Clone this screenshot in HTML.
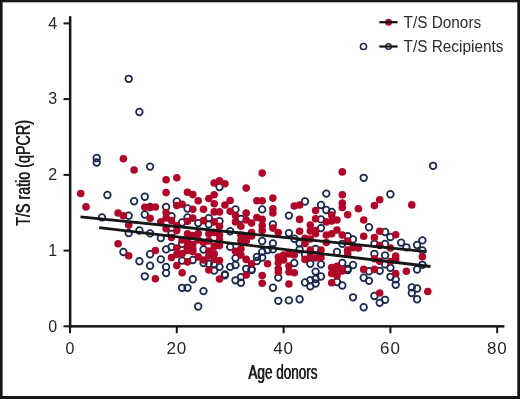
<!DOCTYPE html>
<html><head><meta charset="utf-8"><title>T/S ratio vs Age donors</title>
<style>
html,body{margin:0;padding:0;background:#fff;}
body{width:520px;height:399px;overflow:hidden;font-family:"Liberation Sans",sans-serif;}
svg{display:block;will-change:transform;font-family:"Liberation Sans",sans-serif;}
</style></head><body>
<svg width="520" height="399" viewBox="0 0 520 399">
<rect x="0" y="0" width="520" height="399" fill="#ffffff"/>

<rect x="0" y="0" width="520" height="2.3" fill="#161616"/>
<rect x="0" y="0" width="2.6" height="399" fill="#161616"/>
<rect x="517.3" y="0" width="2.7" height="399" fill="#161616"/>
<rect x="0" y="396" width="520" height="3" fill="#161616"/>
<g fill="#ffffff" fill-opacity="0" stroke="#18294e" stroke-width="1.75">
<circle cx="128.7" cy="78.8" r="3.3"/>
<circle cx="139.4" cy="112.0" r="3.3"/>
<circle cx="96.7" cy="158.0" r="3.3"/>
<circle cx="96.7" cy="162.5" r="3.3"/>
<circle cx="107.4" cy="195.0" r="3.3"/>
<circle cx="102.0" cy="217.4" r="3.3"/>
<circle cx="128.7" cy="215.7" r="3.3"/>
<circle cx="134.1" cy="201.2" r="3.3"/>
<circle cx="144.8" cy="196.7" r="3.3"/>
<circle cx="144.8" cy="214.5" r="3.3"/>
<circle cx="128.7" cy="233.1" r="3.3"/>
<circle cx="139.4" cy="230.5" r="3.3"/>
<circle cx="150.1" cy="233.4" r="3.3"/>
<circle cx="123.4" cy="252.0" r="3.3"/>
<circle cx="139.4" cy="261.2" r="3.3"/>
<circle cx="144.8" cy="276.3" r="3.3"/>
<circle cx="150.1" cy="254.2" r="3.3"/>
<circle cx="150.1" cy="265.7" r="3.3"/>
<circle cx="150.1" cy="166.6" r="3.3"/>
<circle cx="176.8" cy="201.5" r="3.3"/>
<circle cx="166.1" cy="206.9" r="3.3"/>
<circle cx="219.5" cy="187.0" r="3.3"/>
<circle cx="187.5" cy="208.5" r="3.3"/>
<circle cx="150.1" cy="207.0" r="3.3"/>
<circle cx="171.5" cy="216.2" r="3.3"/>
<circle cx="187.5" cy="217.5" r="3.3"/>
<circle cx="182.1" cy="222.5" r="3.3"/>
<circle cx="198.2" cy="223.1" r="3.3"/>
<circle cx="160.8" cy="238.1" r="3.3"/>
<circle cx="171.5" cy="233.8" r="3.3"/>
<circle cx="182.1" cy="243.8" r="3.3"/>
<circle cx="171.5" cy="247.0" r="3.3"/>
<circle cx="166.1" cy="249.4" r="3.3"/>
<circle cx="160.8" cy="259.4" r="3.3"/>
<circle cx="166.1" cy="266.9" r="3.3"/>
<circle cx="166.1" cy="273.1" r="3.3"/>
<circle cx="182.1" cy="260.6" r="3.3"/>
<circle cx="192.8" cy="279.2" r="3.3"/>
<circle cx="182.1" cy="287.8" r="3.3"/>
<circle cx="187.5" cy="287.8" r="3.3"/>
<circle cx="203.5" cy="291.1" r="3.3"/>
<circle cx="192.8" cy="260.0" r="3.3"/>
<circle cx="203.5" cy="263.0" r="3.3"/>
<circle cx="187.5" cy="250.0" r="3.3"/>
<circle cx="198.2" cy="306.5" r="3.3"/>
<circle cx="224.9" cy="275.2" r="3.3"/>
<circle cx="235.5" cy="280.3" r="3.3"/>
<circle cx="240.9" cy="282.7" r="3.3"/>
<circle cx="240.9" cy="277.1" r="3.3"/>
<circle cx="251.6" cy="270.0" r="3.3"/>
<circle cx="214.2" cy="270.5" r="3.3"/>
<circle cx="235.5" cy="209.4" r="3.3"/>
<circle cx="262.2" cy="209.4" r="3.3"/>
<circle cx="208.8" cy="218.1" r="3.3"/>
<circle cx="219.5" cy="221.2" r="3.3"/>
<circle cx="240.9" cy="218.8" r="3.3"/>
<circle cx="208.8" cy="224.4" r="3.3"/>
<circle cx="230.2" cy="231.2" r="3.3"/>
<circle cx="262.2" cy="241.0" r="3.3"/>
<circle cx="230.2" cy="246.9" r="3.3"/>
<circle cx="235.5" cy="258.1" r="3.3"/>
<circle cx="256.9" cy="256.9" r="3.3"/>
<circle cx="262.2" cy="257.5" r="3.3"/>
<circle cx="262.2" cy="251.9" r="3.3"/>
<circle cx="267.6" cy="250.0" r="3.3"/>
<circle cx="256.9" cy="261.0" r="3.3"/>
<circle cx="214.2" cy="264.4" r="3.3"/>
<circle cx="219.5" cy="266.9" r="3.3"/>
<circle cx="208.8" cy="263.8" r="3.3"/>
<circle cx="230.2" cy="266.9" r="3.3"/>
<circle cx="235.5" cy="265.0" r="3.3"/>
<circle cx="246.2" cy="268.8" r="3.3"/>
<circle cx="251.6" cy="269.4" r="3.3"/>
<circle cx="224.9" cy="274.4" r="3.3"/>
<circle cx="326.3" cy="193.6" r="3.3"/>
<circle cx="305.0" cy="201.5" r="3.3"/>
<circle cx="321.0" cy="205.0" r="3.3"/>
<circle cx="326.3" cy="210.0" r="3.3"/>
<circle cx="331.7" cy="212.0" r="3.3"/>
<circle cx="288.9" cy="215.6" r="3.3"/>
<circle cx="321.0" cy="219.4" r="3.3"/>
<circle cx="272.9" cy="224.4" r="3.3"/>
<circle cx="321.0" cy="228.1" r="3.3"/>
<circle cx="288.9" cy="233.1" r="3.3"/>
<circle cx="294.3" cy="238.7" r="3.3"/>
<circle cx="272.9" cy="243.4" r="3.3"/>
<circle cx="299.6" cy="243.4" r="3.3"/>
<circle cx="272.9" cy="249.4" r="3.3"/>
<circle cx="299.6" cy="249.4" r="3.3"/>
<circle cx="315.6" cy="248.8" r="3.3"/>
<circle cx="305.0" cy="255.0" r="3.3"/>
<circle cx="310.3" cy="263.8" r="3.3"/>
<circle cx="321.0" cy="264.4" r="3.3"/>
<circle cx="294.3" cy="263.0" r="3.3"/>
<circle cx="278.3" cy="277.6" r="3.3"/>
<circle cx="315.6" cy="271.6" r="3.3"/>
<circle cx="321.0" cy="276.5" r="3.3"/>
<circle cx="315.6" cy="279.0" r="3.3"/>
<circle cx="310.3" cy="280.1" r="3.3"/>
<circle cx="305.0" cy="282.5" r="3.3"/>
<circle cx="272.9" cy="287.7" r="3.3"/>
<circle cx="278.3" cy="300.8" r="3.3"/>
<circle cx="288.9" cy="300.4" r="3.3"/>
<circle cx="299.6" cy="299.2" r="3.3"/>
<circle cx="310.3" cy="286.3" r="3.3"/>
<circle cx="315.6" cy="283.5" r="3.3"/>
<circle cx="342.3" cy="285.5" r="3.3"/>
<circle cx="353.0" cy="297.3" r="3.3"/>
<circle cx="347.7" cy="270.0" r="3.3"/>
<circle cx="363.7" cy="177.8" r="3.3"/>
<circle cx="390.4" cy="194.2" r="3.3"/>
<circle cx="369.0" cy="227.2" r="3.3"/>
<circle cx="347.7" cy="236.2" r="3.3"/>
<circle cx="353.0" cy="239.4" r="3.3"/>
<circle cx="385.1" cy="232.0" r="3.3"/>
<circle cx="390.4" cy="237.0" r="3.3"/>
<circle cx="374.4" cy="243.8" r="3.3"/>
<circle cx="385.1" cy="244.0" r="3.3"/>
<circle cx="401.1" cy="242.6" r="3.3"/>
<circle cx="342.3" cy="243.8" r="3.3"/>
<circle cx="337.0" cy="251.9" r="3.3"/>
<circle cx="374.4" cy="253.8" r="3.3"/>
<circle cx="385.1" cy="255.4" r="3.3"/>
<circle cx="342.3" cy="263.0" r="3.3"/>
<circle cx="353.0" cy="265.0" r="3.3"/>
<circle cx="347.7" cy="268.8" r="3.3"/>
<circle cx="385.1" cy="264.4" r="3.3"/>
<circle cx="390.4" cy="267.8" r="3.3"/>
<circle cx="379.7" cy="270.8" r="3.3"/>
<circle cx="369.0" cy="271.2" r="3.3"/>
<circle cx="363.7" cy="277.7" r="3.3"/>
<circle cx="369.0" cy="280.8" r="3.3"/>
<circle cx="390.4" cy="276.8" r="3.3"/>
<circle cx="395.7" cy="279.4" r="3.3"/>
<circle cx="337.0" cy="282.0" r="3.3"/>
<circle cx="363.7" cy="307.2" r="3.3"/>
<circle cx="374.4" cy="296.0" r="3.3"/>
<circle cx="385.1" cy="299.8" r="3.3"/>
<circle cx="379.7" cy="302.8" r="3.3"/>
<circle cx="395.7" cy="284.8" r="3.3"/>
<circle cx="433.1" cy="165.8" r="3.3"/>
<circle cx="203.5" cy="249.5" r="3.3"/>
<circle cx="406.4" cy="247.3" r="3.3"/>
<circle cx="422.4" cy="240.4" r="3.3"/>
<circle cx="417.1" cy="245.0" r="3.3"/>
<circle cx="422.4" cy="250.4" r="3.3"/>
<circle cx="422.4" cy="264.8" r="3.3"/>
<circle cx="417.1" cy="269.5" r="3.3"/>
<circle cx="411.8" cy="287.4" r="3.3"/>
<circle cx="417.1" cy="288.5" r="3.3"/>
<circle cx="411.8" cy="293.0" r="3.3"/>
<circle cx="417.1" cy="299.2" r="3.3"/>
</g>
<g fill="#b00628">
<circle cx="123.4" cy="158.8" r="3.8"/>
<circle cx="134.1" cy="170.0" r="3.8"/>
<circle cx="80.7" cy="193.5" r="3.8"/>
<circle cx="86.0" cy="206.9" r="3.8"/>
<circle cx="118.1" cy="213.0" r="3.8"/>
<circle cx="123.4" cy="215.7" r="3.8"/>
<circle cx="128.7" cy="225.1" r="3.8"/>
<circle cx="144.8" cy="207.2" r="3.8"/>
<circle cx="150.1" cy="207.5" r="3.8"/>
<circle cx="150.1" cy="218.3" r="3.8"/>
<circle cx="118.1" cy="243.8" r="3.8"/>
<circle cx="128.7" cy="255.8" r="3.8"/>
<circle cx="166.1" cy="179.7" r="3.8"/>
<circle cx="176.8" cy="177.7" r="3.8"/>
<circle cx="166.1" cy="192.6" r="3.8"/>
<circle cx="187.5" cy="192.3" r="3.8"/>
<circle cx="192.8" cy="194.6" r="3.8"/>
<circle cx="198.2" cy="200.7" r="3.8"/>
<circle cx="208.8" cy="198.5" r="3.8"/>
<circle cx="214.2" cy="194.7" r="3.8"/>
<circle cx="214.2" cy="183.0" r="3.8"/>
<circle cx="219.5" cy="180.7" r="3.8"/>
<circle cx="214.2" cy="203.8" r="3.8"/>
<circle cx="176.8" cy="205.5" r="3.8"/>
<circle cx="182.1" cy="204.3" r="3.8"/>
<circle cx="155.4" cy="207.0" r="3.8"/>
<circle cx="192.8" cy="209.3" r="3.8"/>
<circle cx="203.5" cy="209.3" r="3.8"/>
<circle cx="166.1" cy="212.5" r="3.8"/>
<circle cx="166.1" cy="218.0" r="3.8"/>
<circle cx="160.8" cy="221.9" r="3.8"/>
<circle cx="171.5" cy="220.6" r="3.8"/>
<circle cx="192.8" cy="218.1" r="3.8"/>
<circle cx="187.5" cy="221.2" r="3.8"/>
<circle cx="203.5" cy="220.6" r="3.8"/>
<circle cx="176.8" cy="225.6" r="3.8"/>
<circle cx="166.1" cy="228.8" r="3.8"/>
<circle cx="176.8" cy="230.6" r="3.8"/>
<circle cx="171.5" cy="237.5" r="3.8"/>
<circle cx="187.5" cy="233.8" r="3.8"/>
<circle cx="192.8" cy="235.6" r="3.8"/>
<circle cx="182.1" cy="240.0" r="3.8"/>
<circle cx="187.5" cy="241.2" r="3.8"/>
<circle cx="198.2" cy="240.0" r="3.8"/>
<circle cx="203.5" cy="242.5" r="3.8"/>
<circle cx="176.8" cy="248.1" r="3.8"/>
<circle cx="155.4" cy="250.5" r="3.8"/>
<circle cx="187.5" cy="246.9" r="3.8"/>
<circle cx="171.5" cy="257.5" r="3.8"/>
<circle cx="176.8" cy="254.4" r="3.8"/>
<circle cx="176.8" cy="265.6" r="3.8"/>
<circle cx="182.1" cy="253.8" r="3.8"/>
<circle cx="182.1" cy="272.7" r="3.8"/>
<circle cx="187.5" cy="261.9" r="3.8"/>
<circle cx="155.4" cy="278.8" r="3.8"/>
<circle cx="187.5" cy="250.5" r="3.8"/>
<circle cx="192.8" cy="248.8" r="3.8"/>
<circle cx="198.2" cy="256.9" r="3.8"/>
<circle cx="203.5" cy="260.0" r="3.8"/>
<circle cx="219.5" cy="279.0" r="3.8"/>
<circle cx="246.2" cy="275.0" r="3.8"/>
<circle cx="262.2" cy="275.5" r="3.8"/>
<circle cx="262.2" cy="283.2" r="3.8"/>
<circle cx="208.8" cy="270.0" r="3.8"/>
<circle cx="224.9" cy="183.8" r="3.8"/>
<circle cx="246.2" cy="188.1" r="3.8"/>
<circle cx="262.2" cy="173.1" r="3.8"/>
<circle cx="230.2" cy="200.5" r="3.8"/>
<circle cx="256.9" cy="200.8" r="3.8"/>
<circle cx="262.2" cy="200.8" r="3.8"/>
<circle cx="224.9" cy="205.0" r="3.8"/>
<circle cx="214.2" cy="211.9" r="3.8"/>
<circle cx="219.5" cy="211.9" r="3.8"/>
<circle cx="230.2" cy="211.2" r="3.8"/>
<circle cx="246.2" cy="213.1" r="3.8"/>
<circle cx="235.5" cy="215.6" r="3.8"/>
<circle cx="256.9" cy="217.5" r="3.8"/>
<circle cx="262.2" cy="219.4" r="3.8"/>
<circle cx="235.5" cy="221.9" r="3.8"/>
<circle cx="246.2" cy="220.0" r="3.8"/>
<circle cx="251.6" cy="223.1" r="3.8"/>
<circle cx="214.2" cy="221.9" r="3.8"/>
<circle cx="219.5" cy="226.2" r="3.8"/>
<circle cx="240.9" cy="226.2" r="3.8"/>
<circle cx="262.2" cy="225.6" r="3.8"/>
<circle cx="262.2" cy="230.6" r="3.8"/>
<circle cx="251.6" cy="232.5" r="3.8"/>
<circle cx="214.2" cy="232.5" r="3.8"/>
<circle cx="219.5" cy="235.0" r="3.8"/>
<circle cx="208.8" cy="233.8" r="3.8"/>
<circle cx="240.9" cy="235.0" r="3.8"/>
<circle cx="246.2" cy="237.5" r="3.8"/>
<circle cx="240.9" cy="240.6" r="3.8"/>
<circle cx="208.8" cy="240.9" r="3.8"/>
<circle cx="219.5" cy="240.0" r="3.8"/>
<circle cx="251.6" cy="236.0" r="3.8"/>
<circle cx="219.5" cy="245.6" r="3.8"/>
<circle cx="246.2" cy="241.0" r="3.8"/>
<circle cx="235.5" cy="251.2" r="3.8"/>
<circle cx="240.9" cy="248.8" r="3.8"/>
<circle cx="240.9" cy="255.0" r="3.8"/>
<circle cx="208.8" cy="251.0" r="3.8"/>
<circle cx="214.2" cy="253.8" r="3.8"/>
<circle cx="208.8" cy="256.0" r="3.8"/>
<circle cx="219.5" cy="260.6" r="3.8"/>
<circle cx="246.2" cy="259.4" r="3.8"/>
<circle cx="251.6" cy="263.8" r="3.8"/>
<circle cx="267.6" cy="263.8" r="3.8"/>
<circle cx="272.9" cy="198.1" r="3.8"/>
<circle cx="272.9" cy="208.8" r="3.8"/>
<circle cx="272.9" cy="213.0" r="3.8"/>
<circle cx="294.3" cy="206.0" r="3.8"/>
<circle cx="299.6" cy="205.0" r="3.8"/>
<circle cx="315.6" cy="210.6" r="3.8"/>
<circle cx="299.6" cy="219.4" r="3.8"/>
<circle cx="315.6" cy="218.8" r="3.8"/>
<circle cx="331.7" cy="215.0" r="3.8"/>
<circle cx="331.7" cy="221.0" r="3.8"/>
<circle cx="326.3" cy="221.9" r="3.8"/>
<circle cx="310.3" cy="225.0" r="3.8"/>
<circle cx="272.9" cy="228.1" r="3.8"/>
<circle cx="278.3" cy="232.5" r="3.8"/>
<circle cx="299.6" cy="231.2" r="3.8"/>
<circle cx="310.3" cy="231.0" r="3.8"/>
<circle cx="315.6" cy="230.6" r="3.8"/>
<circle cx="315.6" cy="233.8" r="3.8"/>
<circle cx="326.3" cy="235.0" r="3.8"/>
<circle cx="331.7" cy="233.8" r="3.8"/>
<circle cx="305.0" cy="238.2" r="3.8"/>
<circle cx="310.3" cy="239.0" r="3.8"/>
<circle cx="305.0" cy="243.4" r="3.8"/>
<circle cx="326.3" cy="242.5" r="3.8"/>
<circle cx="310.3" cy="250.0" r="3.8"/>
<circle cx="321.0" cy="250.0" r="3.8"/>
<circle cx="305.0" cy="259.4" r="3.8"/>
<circle cx="310.3" cy="257.0" r="3.8"/>
<circle cx="315.6" cy="258.0" r="3.8"/>
<circle cx="321.0" cy="257.5" r="3.8"/>
<circle cx="278.3" cy="257.0" r="3.8"/>
<circle cx="283.6" cy="255.0" r="3.8"/>
<circle cx="288.9" cy="254.0" r="3.8"/>
<circle cx="294.3" cy="255.0" r="3.8"/>
<circle cx="278.3" cy="262.5" r="3.8"/>
<circle cx="283.6" cy="260.0" r="3.8"/>
<circle cx="278.3" cy="268.8" r="3.8"/>
<circle cx="288.9" cy="266.0" r="3.8"/>
<circle cx="294.3" cy="272.7" r="3.8"/>
<circle cx="288.9" cy="284.0" r="3.8"/>
<circle cx="331.7" cy="267.5" r="3.8"/>
<circle cx="331.7" cy="273.5" r="3.8"/>
<circle cx="331.7" cy="282.7" r="3.8"/>
<circle cx="278.3" cy="272.0" r="3.8"/>
<circle cx="288.9" cy="272.0" r="3.8"/>
<circle cx="337.0" cy="275.8" r="3.8"/>
<circle cx="342.3" cy="271.0" r="3.8"/>
<circle cx="342.3" cy="171.9" r="3.8"/>
<circle cx="342.3" cy="194.7" r="3.8"/>
<circle cx="379.7" cy="199.8" r="3.8"/>
<circle cx="342.3" cy="203.0" r="3.8"/>
<circle cx="342.3" cy="207.5" r="3.8"/>
<circle cx="347.7" cy="214.8" r="3.8"/>
<circle cx="358.4" cy="208.8" r="3.8"/>
<circle cx="363.7" cy="220.0" r="3.8"/>
<circle cx="374.4" cy="205.6" r="3.8"/>
<circle cx="337.0" cy="220.0" r="3.8"/>
<circle cx="337.0" cy="230.0" r="3.8"/>
<circle cx="342.3" cy="235.0" r="3.8"/>
<circle cx="347.7" cy="241.0" r="3.8"/>
<circle cx="363.7" cy="236.2" r="3.8"/>
<circle cx="374.4" cy="237.5" r="3.8"/>
<circle cx="379.7" cy="231.2" r="3.8"/>
<circle cx="395.7" cy="234.8" r="3.8"/>
<circle cx="379.7" cy="245.5" r="3.8"/>
<circle cx="390.4" cy="248.0" r="3.8"/>
<circle cx="347.7" cy="250.0" r="3.8"/>
<circle cx="347.7" cy="253.8" r="3.8"/>
<circle cx="358.4" cy="248.0" r="3.8"/>
<circle cx="395.7" cy="256.0" r="3.8"/>
<circle cx="395.7" cy="259.5" r="3.8"/>
<circle cx="374.4" cy="258.8" r="3.8"/>
<circle cx="379.7" cy="261.2" r="3.8"/>
<circle cx="390.4" cy="261.5" r="3.8"/>
<circle cx="337.0" cy="266.2" r="3.8"/>
<circle cx="342.3" cy="269.4" r="3.8"/>
<circle cx="337.0" cy="273.0" r="3.8"/>
<circle cx="363.7" cy="269.4" r="3.8"/>
<circle cx="374.4" cy="269.4" r="3.8"/>
<circle cx="395.7" cy="273.6" r="3.8"/>
<circle cx="198.2" cy="233.5" r="3.8"/>
<circle cx="192.8" cy="244.5" r="3.8"/>
<circle cx="192.8" cy="251.5" r="3.8"/>
<circle cx="214.2" cy="246.5" r="3.8"/>
<circle cx="214.2" cy="259.5" r="3.8"/>
<circle cx="353.0" cy="247.8" r="3.8"/>
<circle cx="379.7" cy="293.0" r="3.8"/>
<circle cx="411.8" cy="204.9" r="3.8"/>
<circle cx="422.4" cy="256.8" r="3.8"/>
<circle cx="406.4" cy="271.2" r="3.8"/>
<circle cx="427.8" cy="291.5" r="3.8"/>
</g>
<g stroke="#161616" stroke-width="2.8" stroke-linecap="butt">
<line x1="80.5" y1="216.9" x2="426.5" y2="251.6"/>
<line x1="99.2" y1="227.7" x2="430.5" y2="266.5"/>
</g>
<g fill="#161616">
<rect x="68.9" y="16.2" width="2.5" height="311.4"/>
<rect x="68.9" y="325.1" width="435.5" height="2.5"/>
<rect x="63.5" y="22.4" width="6" height="2"/>
<rect x="63.5" y="98.1" width="6" height="2"/>
<rect x="63.5" y="173.9" width="6" height="2"/>
<rect x="63.5" y="249.6" width="6" height="2"/>
<rect x="63.5" y="325.3" width="6" height="2"/>
<rect x="69.0" y="326" width="2" height="7.2"/>
<rect x="175.8" y="326" width="2" height="7.2"/>
<rect x="282.6" y="326" width="2" height="7.2"/>
<rect x="389.4" y="326" width="2" height="7.2"/>
<rect x="496.2" y="326" width="2" height="7.2"/>
</g>
<g font-size="16" fill="#262626">
<text x="57.2" y="28.6" text-anchor="end">4</text>
<text x="57.2" y="104.3" text-anchor="end">3</text>
<text x="57.2" y="180.1" text-anchor="end">2</text>
<text x="57.2" y="255.8" text-anchor="end">1</text>
<text x="57.2" y="331.5" text-anchor="end">0</text>
<text x="70.0" y="354.4" text-anchor="middle">0</text>
<text x="166.5" y="354.4" textLength="20.6" lengthAdjust="spacingAndGlyphs" letter-spacing="0.8">20</text>
<text x="273.3" y="354.4" textLength="20.6" lengthAdjust="spacingAndGlyphs" letter-spacing="0.8">40</text>
<text x="380.1" y="354.4" textLength="20.6" lengthAdjust="spacingAndGlyphs" letter-spacing="0.8">60</text>
<text x="486.9" y="354.4" textLength="20.6" lengthAdjust="spacingAndGlyphs" letter-spacing="0.8">80</text>
</g>
<text x="248.10" y="379.2" font-size="19.6" fill="#1c1c1c" textLength="69.2" lengthAdjust="spacingAndGlyphs">Age donors</text>
<text transform="translate(29.8,226.10) rotate(-90)" font-size="19.6" fill="#1c1c1c" textLength="105.8" lengthAdjust="spacingAndGlyphs">T/S ratio (qPCR)</text>
<text x="248.65" y="379.2" font-size="19.6" fill="#1c1c1c" textLength="69.2" lengthAdjust="spacingAndGlyphs">Age donors</text>
<text transform="translate(29.8,225.55) rotate(-90)" font-size="19.6" fill="#1c1c1c" textLength="105.8" lengthAdjust="spacingAndGlyphs">T/S ratio (qPCR)</text>
<circle cx="388.5" cy="22.2" r="3.5" fill="#b00628"/>
<circle cx="388.5" cy="46.5" r="2.8" fill="none" stroke="#18294e" stroke-width="1.4"/>
<rect x="379.3" y="21.1" width="18.3" height="2.2" fill="#161616"/>
<rect x="379.3" y="45.4" width="18.3" height="2.2" fill="#161616"/>
<circle cx="363.5" cy="46.5" r="3.1" fill="none" stroke="#18294e" stroke-width="1.5"/>
<text x="403.6" y="27.9" font-size="16" fill="#2c2c2c" textLength="77.6" lengthAdjust="spacingAndGlyphs">T/S Donors</text>
<text x="403.6" y="51.9" font-size="16" fill="#2c2c2c" textLength="99.8" lengthAdjust="spacingAndGlyphs">T/S Recipients</text>
</svg></body></html>
